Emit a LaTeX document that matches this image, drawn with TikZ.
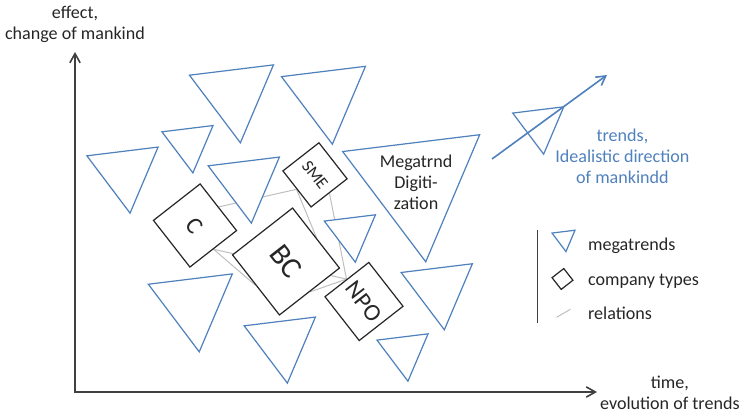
\documentclass[tikz,border=0pt]{standalone}
\usepackage{fontspec}
\setmainfont{Carlito}
\usepackage{tikz}
\usetikzlibrary{arrows.meta,shapes.geometric,backgrounds}
\definecolor{trendblue}{RGB}{79,129,189}
\definecolor{inkgray}{RGB}{64,64,64}
\tikzset{
  megatrend/.style={draw=trendblue, fill=white, regular polygon, regular polygon sides=3, shape border rotate=187, inner sep=0pt, line width=0.6pt},
  trendsmall/.style={megatrend, minimum size=1.04cm},
  trendmid/.style={megatrend, minimum size=1.45cm},
  trendlarge/.style={megatrend, minimum size=1.71cm},
  company/.style={draw=black!85, fill=white, rectangle, rotate=-52, inner sep=0pt, line width=0.6pt, text=black!85},
  relation/.style={black!25, line width=0.5pt},
  axis/.style={{Straight Barb[length=1.6mm,width=1.8mm]}-{Straight Barb[length=1.6mm,width=1.8mm]}, inkgray, line width=0.8pt},
  trendarrow/.style={-{Straight Barb[length=1.6mm,width=1.8mm]}, trendblue, line width=0.8pt},
  axislabel/.style={align=center, text=black!85},
  legendtext/.style={anchor=base west, text=black!85}
}

\begin{document}
\begin{tikzpicture}[x=1cm,y=1cm,font=\fontsize{9}{10.5}\selectfont]
  \useasboundingbox (-1.3125,-0.4375) rectangle (11.655,6.86);
  % axes
  \coordinate (origin) at (0,0);
  \coordinate (ytip) at (0,5.95);
  \coordinate (xtip) at (9.135,0);
  \draw[axis] (ytip) |- (xtip);
  \node[axislabel] (ylabel) at (0,6.44) {effect,\\change of mankind};
  \node[axislabel] (xlabel) at (10.41,-0.02) {time,\\evolution of trends};

  % megatrends
  \node[trendlarge] (mt1) at (2.79,5.21) {};
  \node[trendsmall] (mt2) at (2.00,4.35) {};
  \node[trendmid] (mt3) at (0.875,3.85) {};
  \node[trendlarge] (mt4) at (4.40,5.185) {};
  \node[megatrend,minimum size=2.79cm,
    label={[align=center,text=black!85]center:Megatrnd\\Digiti-\\zation}] (digitization) at (5.968,3.663) {};
  \node[trendmid] (mt5) at (2.998,3.675) {};
  \node[trendsmall] (mt6) at (4.842,2.788) {};
  \node[trendlarge] (mt7) at (2.07,1.552) {};
  \node[trendmid] (mt8) at (3.628,0.875) {};
  \node[trendmid] (mt9) at (6.375,1.808) {};
  \node[trendsmall] (mt10) at (5.763,0.705) {};

  % company types
  \node[company,minimum size=0.80cm,font=\fontsize{8.5}{10}\selectfont] (sme) at (4.2,3.80) {SME};
  \node[company,minimum size=1.036cm,font=\fontsize{12}{14}\selectfont] (corp) at (2.1,2.914) {C};
  \node[company,minimum size=1.333cm,font=\fontsize{15}{18}\selectfont] (bc) at (3.6925,2.284) {BC};
  \node[company,minimum size=0.973cm,font=\fontsize{12}{14}\selectfont] (npo) at (5.0575,1.584) {NPO};

  % relations
  \begin{scope}[on background layer]
    \draw[relation] (corp.north) -- (sme.south);
    \draw[relation] (sme.south) -- (bc.north);
    \draw[relation] (sme.east) -- (npo.west);
    \draw[relation] (corp.east) -- (npo.west);
    \draw[relation] (corp.east) -- (bc.south);
    \draw[relation] (bc.east) -- (npo.west);
  \end{scope}

  % trend direction
  \node[trendsmall] (trend) at (8.138,4.678) {};
  \coordinate (trendstart) at (7.2975,4.0775);
  \coordinate (trendend) at (9.31,5.5475);
  \draw[trendarrow] (trendstart) -- (trendend);
  \node[align=center,text=trendblue] (trendlabel) at (9.58,4.13) {trends,\\Idealistic direction\\of mankindd};

  % legend
  \coordinate (legtop) at (8.097,2.835);
  \coordinate (legbot) at (8.097,1.2075);
  \draw[inkgray,line width=0.8pt] (legtop) -- (legbot);
  \node[megatrend,minimum size=0.469cm] (legtrend) at (8.563,2.69) {};
  \node[company,minimum size=0.26cm] (legcomp) at (8.531,1.978) {};
  \coordinate (legrelA) at (8.428,1.307);
  \coordinate (legrelB) at (8.6675,1.4472);
  \draw[relation] (legrelA) -- (legrelB);
  \node[legendtext] (legtrendtext) at (8.855,2.485) {megatrends};
  \node[legendtext] (legcomptext) at (8.855,1.8725) {company types};
  \node[legendtext] (legreltext) at (8.855,1.2775) {relations};
\end{tikzpicture}
\end{document}
